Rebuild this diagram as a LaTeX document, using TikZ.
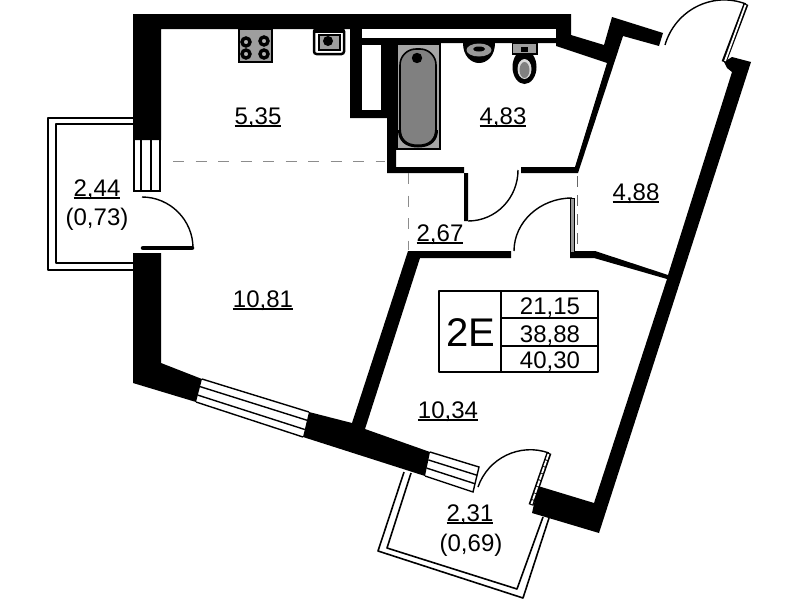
\documentclass[tikz,border=0pt]{standalone}
\usepackage{fontspec}
\setmainfont{Liberation Sans}
\usetikzlibrary{calc}
\newcommand\ulab[1]{\sbox0{#1}\rlap{\rule[-2.6pt]{\wd0}{1.6pt}}\box0}
\tikzset{
  wall/.style={fill=black,draw=none},
  hole/.style={fill=white,draw=none},
  thinline/.style={draw=black,line width=1.6pt,line join=round},
  doorarc/.style={draw=black,line width=1.4pt},
  paneline/.style={draw=black,line width=1.4pt},
  leafouter/.style={draw=black,line width=5pt},
  leafinner/.style={draw=white,line width=1.8pt},
  zoneline/.style={draw=black!45,line width=1pt,dash pattern=on 11pt off 11.5pt},
  zoneline2/.style={draw=black!60,line width=.9pt,dash pattern=on 11pt off 8pt},
  txt/.style={anchor=base,inner sep=0pt,font=\fontsize{24}{24}\selectfont},
  big/.style={anchor=base,inner sep=0pt,font=\fontsize{40}{40}\selectfont},
  fixture/.style={fill=black!38,draw=black,line width=2pt},
  burner/.style={fill=black!30,draw=black,line width=3.4pt},
}
\begin{document}
\begin{tikzpicture}[x=1pt,y=-1pt]
\useasboundingbox (0,0) rectangle (799,600);
% walls
\fill[wall] (133,14)--(571,14)--(571,35)--(604,45)--(612,17)--(663,33)--(659,46)--(623,36)--(578,173)--(521,173)--(521,167)--(575,167)--(607,63)--(556,46)--(556,43)--(396,43)--(396,167)--(464,167)--(464,221)--(468,221)--(468,173)--(387,173)--(387,118)--(350,118)--(350,29)--(161,29)--(161,140)--(133,140)--cycle;
\fill[hole] (362,29) rectangle (556,38);
\fill[hole] (362,45) rectangle (381,110);
\fill[wall] (133,253)--(161,253)--(161,363)--(202,379)--(196,402)--(133,383)--cycle;
\fill[wall] (309,412)--(352,423)--(408,251)--(511,251)--(511,258)--(420,258)--(365,429)--(430,452)--(425,476)--(303,437)--cycle;
\fill[wall] (570,251)--(595,251)--(668,275)--(732,72)--(727,68)--(724,62)--(732,57)--(751,62)--(599,533)--(532,513)--(538,486)--(594,503)--(667,279)--(594,258)--(570,258)--cycle;
\filldraw[fill=black!40,draw=black,line width=1pt] (570.5,198) rectangle (574,252);
% windows
\coordinate (wa) at (134,140); \coordinate (wb) at (160,140); \coordinate (wc) at (160,191); \coordinate (wd) at (134,191);
\draw[paneline] (wa)--(wd)--(wc)--(wb);
\draw[paneline] ($(wa)!.27!(wb)$)--($(wd)!.27!(wc)$);
\draw[paneline] ($(wa)!.65!(wb)$)--($(wd)!.65!(wc)$);
\coordinate (xa) at (202,379); \coordinate (xb) at (309,412); \coordinate (xc) at (303,437); \coordinate (xd) at (196,402);
\draw[paneline] (xa)--(xb); \draw[paneline] (xd)--(xc);
\draw[paneline] ($(xa)!.33!(xd)$)--($(xb)!.33!(xc)$);
\draw[paneline] ($(xa)!.7!(xd)$)--($(xb)!.7!(xc)$);
\coordinate (ya) at (430,452); \coordinate (yb) at (479,467); \coordinate (yc) at (473,492); \coordinate (yd) at (425,476);
\draw[paneline] (ya)--(yb)--(yc)--(yd);
\draw[paneline] ($(ya)!.33!(yd)$)--($(yb)!.33!(yc)$);
\draw[paneline] ($(ya)!.67!(yd)$)--($(yb)!.67!(yc)$);
% balconies
\draw[thinline] (133,118)--(48,118)--(48,270)--(133,270);
\draw[thinline] (133,124)--(56,124)--(56,263)--(133,263);
\draw[thinline] (404,472)--(378,551)--(523,598)--(549,518);
\draw[thinline] (411,473)--(387,548)--(517,589)--(543,517);
% doors
\draw[doorarc] (193,248) .. controls (193,220) and (170,197) .. (142,197);
\draw[black,line width=4.5pt,line cap=round] (143,248)--(192,248);
\draw[doorarc] (468,221) .. controls (496,221) and (518,198) .. (518,170);
\draw[doorarc] (514,251) .. controls (514,222) and (540,198) .. (572,198);
\draw[doorarc] (665,45) .. controls (675,10.4) and (712,-9) .. (746,4);
\draw[leafouter] (746,4)--(724,62); \draw[leafinner] (745.5,5)--(725,61);
\draw[doorarc] (478,487) .. controls (488,458) and (520,442.5) .. (549,453);
\draw[leafouter] (549,453)--(531,505); \draw[leafinner,dash pattern=on 6pt off 1pt] (548.5,454)--(531.5,504);
% zone lines
\draw[zoneline] (173,161)--(385,161);
\draw[zoneline] (408,173)--(408,250);
\draw[zoneline2] (577,176)--(577,250);
% stove
\filldraw[fixture] (239,29) rectangle (272,62);
\foreach \p in {(246,42),(264,41),(246,54),(264,54)} \draw[burner] \p circle (4pt);
% kitchen sink
\filldraw[fill=white,draw=black,line width=2.5pt,rounded corners=2.5pt] (314,29) rectangle (344,54);
\filldraw[fill=black!38,draw=black,line width=1.5pt] (319,35) rectangle (340,50);
\fill[black] (328,41) circle (5pt);
\fill[black] (314,29) rectangle (344,33);
% bath
\filldraw[fill=black!35,draw=black,line width=2pt] (397,44) rectangle (440,149);
\filldraw[fill=black!50,draw=black,line width=1.6pt,rounded corners=16pt] (400,49) rectangle (436,146);
\draw[black,line width=3pt] (399.5,130) .. controls (399.5,140) and (406,146) .. (418,146) .. controls (430,146) and (436.5,140) .. (436.5,130);
\fill[black] (417,58) circle (5.2pt);
\fill[black] (397,43) rectangle (441,45);
% wash basin
\fill[black] (463,43) -- (495,43) .. controls (495,56) and (487,63) .. (479,63) .. controls (471,63) and (463,56) .. (463,43) -- cycle;
\fill[black!40] (479,50) ellipse (12.5pt and 6.5pt);
\fill[black] (479,49) ellipse (6pt and 2.5pt);
% toilet
\fill[black] (524.5,67) ellipse (12pt and 17pt);
\filldraw[fill=black!38,draw=black,line width=1.5pt] (512.5,43) rectangle (537,54);
\fill[black] (521,47) rectangle (528,52);
\fill[black!15] (524.5,69) ellipse (7pt and 10pt);
\fill[black!50] (524.5,70) ellipse (5pt and 8pt);
% labels
\node[txt] (l535) at (258,124) {\ulab{5,35}};
\node[txt] (l483) at (503,124) {\ulab{4,83}};
\node[txt] (l488) at (636,200) {\ulab{4,88}};
\node[txt] (l267) at (440,241) {\ulab{2,67}};
\node[txt] (l1081) at (263,307) {\ulab{10,81}};
\node[txt] (l1034) at (448,418) {\ulab{10,34}};
\node[txt] (l231) at (470,521) {\ulab{2,31}};
\node[txt] (l069) at (471,551) {(0,69)};
\node[txt] (l244) at (97,196) {\ulab{2,44}};
\node[txt] (l073) at (97,225) {(0,73)};
% table
\draw[black,line width=1.6pt,line join=round] (439,291) rectangle (598,372);
\draw[black,line width=1.6pt] (501,291)--(501,372);
\draw[black,line width=1.6pt] (501,318)--(598,318);
\draw[black,line width=1.6pt] (501,346)--(598,346);
\node[big] (apt) at (471,346) {2E};
\node[txt] (t1) at (550,314) {21,15};
\node[txt] (t2) at (550,342) {38,88};
\node[txt] (t3) at (550,368) {40,30};
\end{tikzpicture}
\end{document}
